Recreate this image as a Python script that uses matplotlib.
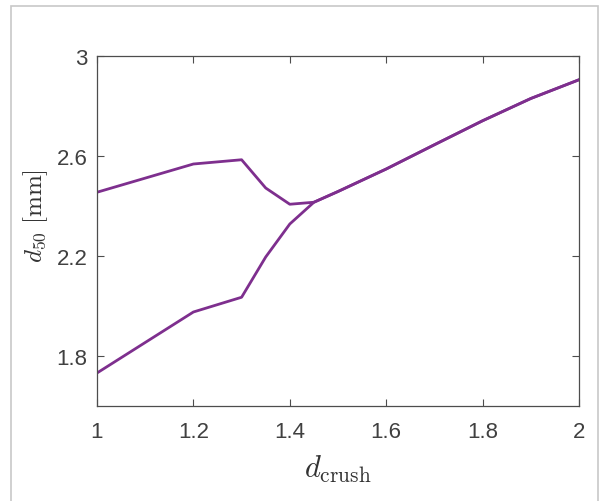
import numpy as np
import matplotlib.pyplot as plt
from matplotlib.patches import Rectangle

# ---------------------------------------------------------------- data
x_vals = [1.0, 1.2, 1.3, 1.35, 1.4, 1.45, 1.5, 1.6, 1.7, 1.8, 1.9, 2.0]
upper = [2.455, 2.568, 2.585, 2.472, 2.407, 2.415, 2.458, 2.548, 2.645, 2.741, 2.830, 2.905]
lower = [1.732, 1.976, 2.035, 2.196, 2.328, 2.415, 2.458, 2.548, 2.645, 2.741, 2.830, 2.905]

x_ticks = [1, 1.2, 1.4, 1.6, 1.8, 2]
x_ticklabels = ["1", "1.2", "1.4", "1.6", "1.8", "2"]
y_ticks = [1.8, 2.2, 2.6, 3.0]
y_ticklabels = ["1.8", "2.2", "2.6", "3"]

LINE = "#7E2F8E"
AXC = "#4d4d4d"
TXT = "#404040"

plt.rcParams["mathtext.fontset"] = "cm"
plt.rcParams["font.family"] = ["Liberation Sans", "DejaVu Sans"]

fig = plt.figure(figsize=(6.03, 5.02), dpi=100)
fig.add_artist(Rectangle((11 / 603, -0.05), (598 - 11) / 603, 1.05 - 7 / 502,
                         transform=fig.transFigure, fill=False,
                         edgecolor="#c8c8c8", linewidth=1.2))
ax = fig.add_axes([97 / 603, 95 / 502, 482 / 603, 350 / 502])

ax.plot(x_vals, upper, color=LINE, linewidth=2.0)
ax.plot(x_vals, lower, color=LINE, linewidth=2.0)

ax.set_xlim(1, 2)
ax.set_ylim(1.6, 3.0)
ax.set_xticks(x_ticks, x_ticklabels)
ax.set_yticks(y_ticks, y_ticklabels)
ax.tick_params(direction="in", length=5, width=0.8, color=AXC, labelcolor=TXT,
               labelsize=16, top=True, right=True)
ax.tick_params(axis="x", pad=11)
ax.tick_params(axis="y", pad=7)
for s in ax.spines.values():
    s.set_color(AXC)
    s.set_linewidth(0.9)

ax.set_xlabel(r"$d_{\mathrm{crush}}$", fontsize=22, color="#333333")
ax.set_ylabel(r"$d_{50}\ [\mathrm{mm}]$", fontsize=18, color="#333333")
ax.xaxis.set_label_coords(0.5, -0.135, transform=ax.transAxes)
ax.yaxis.set_label_coords(-0.098, 0.545, transform=ax.transAxes)

fig.savefig("out.png", dpi=100)
